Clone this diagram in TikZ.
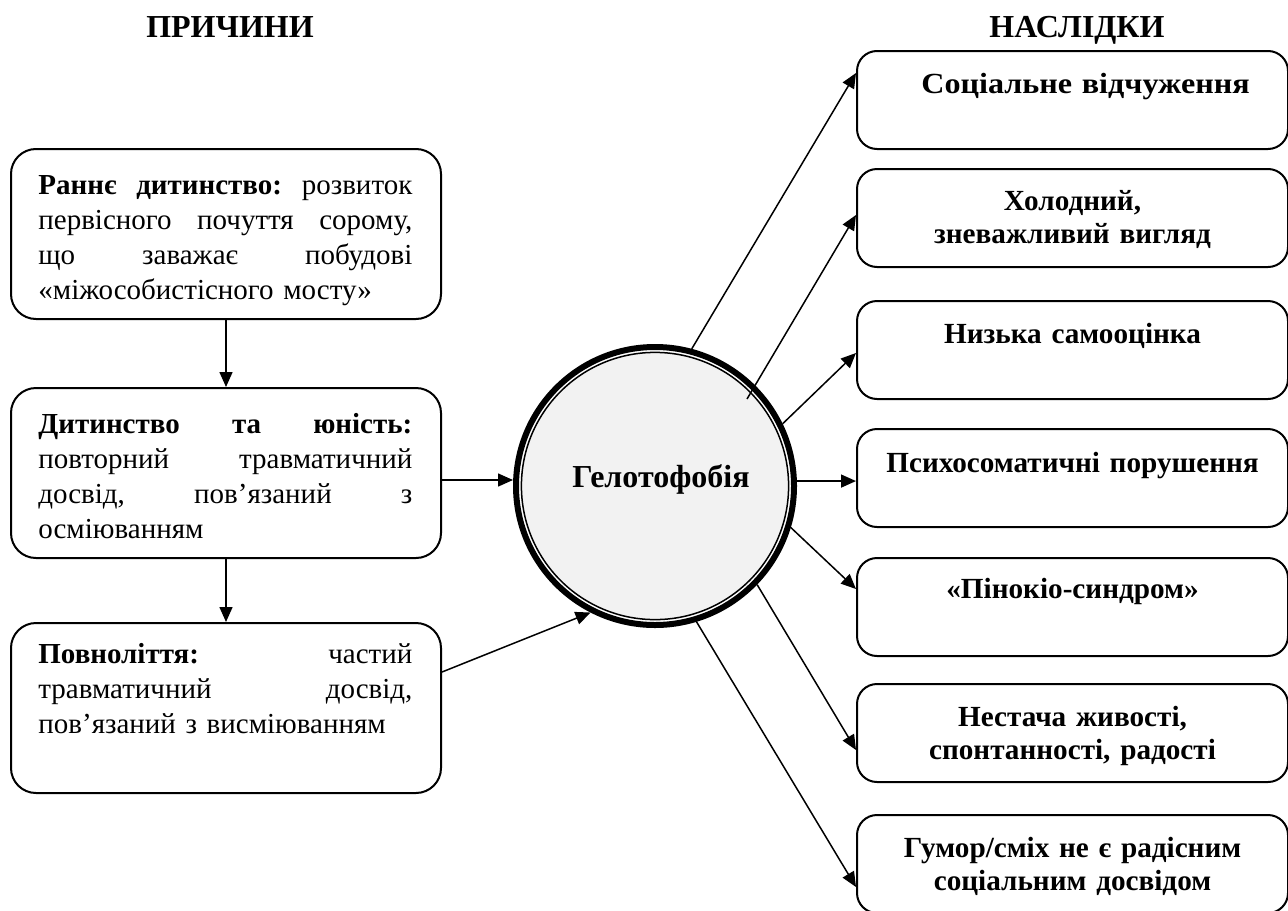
\documentclass[tikz,border=0pt]{standalone}
\usepackage{fontspec}
\setmainfont{Liberation Serif}
\usetikzlibrary{arrows.meta,calc}
\definecolor{cfill}{HTML}{F2F2F2}
\newcommand{\jline}[1]{\leavevmode\hbox to 187pt{\frenchspacing\spaceskip=0.25em plus 1fil\relax\xspaceskip=\spaceskip #1}}
\begin{document}
\begin{tikzpicture}[x=0.5pt,y=-0.5pt,
  lbox/.style={draw, line width=1pt, rounded corners=12.5pt, minimum width=215pt, minimum height=85pt, anchor=north west, inner sep=0pt},
  rbox/.style={draw, line width=1pt, rounded corners=10pt, minimum width=215.5pt, minimum height=49pt, anchor=north west, inner sep=0pt},
  ltext/.style={anchor=base west, text width=187pt, inner sep=0pt, font=\fontsize{14.5}{17.5}\selectfont, align=left},
  rtext/.style={anchor=base, text width=210pt, align=center, inner sep=0pt, font=\fontsize{14.6}{16.5}\selectfont\bfseries},
  head/.style={anchor=base, inner sep=0pt, font=\fontsize{16}{18}\selectfont\bfseries},
  arr/.style={line width=0.75pt, -{Triangle[length=7.5pt,width=6.5pt]}},
]
\useasboundingbox (0,0) rectangle (1288,910);
\clip (0,0) rectangle (1288,910);

% headings
\node[head] (h1) at (230,37) {ПРИЧИНИ};
\node[head] (h2) at (1077,37) {НАСЛІДКИ};

% left boxes
\node[lbox] (l1) at (10,148) {};
\node[lbox] (l2) at (10,387) {};
\node[lbox] (l3) at (10,622) {};

\node[ltext] (lt1) at (38,194) {\jline{\textbf{Раннє дитинство:} розвиток}\\
\jline{первісного почуття сорому,}\\
\jline{що заважає побудові}\\
«міжособистісного мосту»};
\node[ltext] (lt2) at (38,433) {\jline{\textbf{Дитинство та юність:}}\\
\jline{повторний травматичний}\\
\jline{досвід, пов’язаний з}\\
осміюванням};
\node[ltext] (lt3) at (38,663) {\jline{\textbf{Повноліття:} частий}\\
\jline{травматичний досвід,}\\
пов’язаний з висміюванням};

% circle
\node[circle, draw, line width=3pt, fill=white, minimum size=139pt, inner sep=0pt] (c) at (655,486) {};
\draw[fill=cfill, line width=0.75pt] (c.center) circle (66.8pt);
\node[anchor=base, inner sep=0pt, font=\fontsize{16}{18}\selectfont\bfseries] (ct) at (661,487) {Гелотофобія};

% right boxes
\node[rbox] (r1) at (856,50) {};
\node[rbox] (r2) at (856,168) {};
\node[rbox] (r3) at (856,300) {};
\node[rbox] (r4) at (856,428) {};
\node[rbox] (r5) at (856,557) {};
\node[rbox] (r6) at (856,683) {};
\node[rbox] (r7) at (856,814) {};

\node[rtext, xshift=6.5pt, font=\fontsize{14.6}{16.5}\selectfont\bfseries\addfontfeature{FakeStretch=1.1}] (rt1) at (r1.north |- 0,93) {Соціальне відчуження};
\node[rtext] (rt2) at (r2.north |- 0,210) {Холодний,\\ зневажливий вигляд};
\node[rtext] (rt3) at (r3.north |- 0,343) {Низька самооцінка};
\node[rtext] (rt4) at (r4.north |- 0,472) {Психосоматичні порушення};
\node[rtext] (rt5) at (r5.north |- 0,598) {«Пінокіо-синдром»};
\node[rtext] (rt6) at (r6.north |- 0,726) {Нестача живості,\\ спонтанності, радості};
\node[rtext] (rt7) at (r7.north |- 0,857) {Гумор/сміх не є радісним\\ соціальним досвідом};

% left connectors
\draw[arr] (l1.south) -- (l2.north);
\draw[arr] (l2.south) -- (l3.north);
\draw[arr] (l2.east |- 0,480) -- (c.west |- 0,480);
\draw[arr] (l3.east |- 0,672) -- (c.243);

% right connectors
\coordinate (s2) at (747,399);
\draw[arr] (c.75) -- (r1.west |- 0,73);
\draw[arr] (s2) -- (r2.west |- 0,215);
\draw[arr] (c.26) -- (r3.west |- 0,353);
\draw[arr] (c.2) -- (r4.west |- c.2);
\draw[arr] (c.-17) -- (r5.west |- 0,589);
\draw[arr] (c.-44) -- (r6.west |- 0,750);
\draw[arr] (c.-73) -- (r7.west |- 0,887);
\end{tikzpicture}
\end{document}
